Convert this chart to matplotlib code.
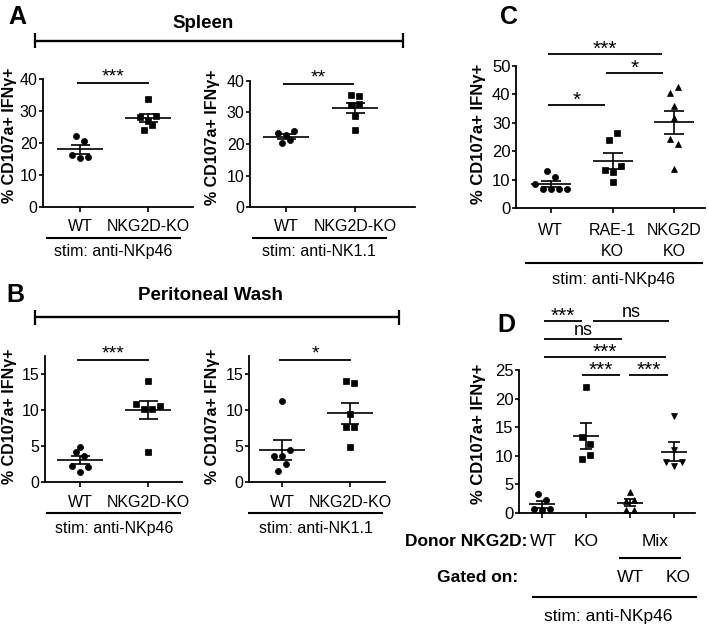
import numpy as np
import matplotlib
matplotlib.use('Agg')
import matplotlib.pyplot as plt
from matplotlib.lines import Line2D

plt.rcParams['font.family'] = ['Liberation Sans', 'DejaVu Sans']

# ---------------- data ----------------
ylabel_text = '% CD107a+ IFNγ+'
ab_cats = ['WT', 'NKG2D-KO']
c_cats = ['WT', 'RAE-1\nKO', 'NKG2D\nKO']

# Panel A (spleen)
a_nkp46_wt = [22.2, 20.7, 16.4, 15.4, 15.7]
a_nkp46_ko = [33.7, 28.1, 27.0, 28.3, 24.1, 25.7]
a_nk11_wt = [23.5, 22.9, 24.0, 20.2, 21.3]
a_nk11_ko = [35.4, 35.1, 32.3, 32.6, 28.8, 24.6]
# Panel B (peritoneal wash)
b_nkp46_wt = [4.9, 4.2, 3.6, 2.2, 1.35, 2.1]
b_nkp46_ko = [14.0, 10.9, 10.2, 10.2, 10.5, 4.2]
b_nk11_wt = [11.2, 3.6, 3.6, 4.4, 1.5, 2.5]
b_nk11_ko = [14.0, 13.7, 9.4, 7.7, 7.7, 4.8]
# Panel C
c_wt = [13.1, 11.1, 8.5, 6.8, 6.8, 6.8, 6.8]
c_rae_ko = [13.5, 12.6, 15.0, 24.0, 26.5, 9.1]
c_nkg2d_ko = [40.6, 42.7, 35.9, 31.9, 24.2, 22.6, 13.7]
# Panel D
d_wt = [3.2, 2.3, 0.6, 0.5, 0.6]
d_ko = [22.1, 13.3, 12.0, 9.4, 10.1]
d_mix_wt = [3.6, 2.0, 2.2, 0.4, 0.5]
d_mix_ko = [16.9, 11.0, 8.8, 8.1, 8.8]
d_donor = ['WT', 'KO', 'Mix']
d_gated = ['WT', 'KO']

# significance annotations: (x start, x end, y, label)
a1_sig = [(-0.05, 1.02, 38.7, '***')]
a2_sig = [(-0.05, 0.99, 39.0, '**')]
b1_sig = [(-0.05, 1.01, 16.9, '***')]
b2_sig = [(-0.04, 1.02, 16.9, '*')]
c_sig = [(-0.04, 1.80, 54.1, '***'), (0.90, 1.82, 47.4, '*'), (-0.04, 0.88, 36.3, '*')]
d_sig = [(0.05, 0.90, 33.5, '***'), (1.15, 2.89, 33.5, 'ns'), (0.05, 1.82, 30.4, 'ns'),
         (0.05, 2.82, 27.2, '***'), (0.90, 1.77, 24.1, '***'), (1.98, 2.87, 24.1, '***')]

# ---------------- layout helpers ----------------
W, H = 708, 628
fig = plt.figure(figsize=(W / 100, H / 100), dpi=100)
PX2PT = 72 / 100


def fx(x):
    return x / W


def fy(y):
    return 1 - y / H


def ax_px(l, t, r, b):
    return fig.add_axes([fx(l), fy(b), (r - l) / W, (b - t) / H])


def swarm_offsets(vals, ppy, d=8.0, thr=8.0):
    vals = np.asarray(vals, float)
    order = np.argsort(vals, kind='stable')
    rows, cur = [], [order[0]]
    for idx in order[1:]:
        if (vals[idx] - vals[cur[0]]) * ppy < thr:
            cur.append(idx)
        else:
            rows.append(cur)
            cur = [idx]
    rows.append(cur)
    off = np.zeros(len(vals))
    for row in rows:
        row = sorted(row)
        n = len(row)
        for k, idx in enumerate(row):
            off[idx] = (k - (n - 1) / 2) * d
    return off


def panel(l, t, r, b, cat_px, ylim, yticks, ytick_size):
    ax = ax_px(l, t, r, b)
    n = len(cat_px)
    ppx = (cat_px[-1] - cat_px[0]) / (n - 1)
    xmin = -(cat_px[0] - l) / ppx
    ax.set_xlim(xmin, xmin + (r - l) / ppx)
    ax.set_ylim(*ylim)
    ax.set_yticks(yticks)
    ax.set_xticks(range(n))
    for s in ('top', 'right'):
        ax.spines[s].set_visible(False)
    for s in ('left', 'bottom'):
        ax.spines[s].set_linewidth(1.3)
    ax.tick_params(axis='y', direction='out', length=3, width=1.2, pad=1, labelsize=ytick_size)
    ax.tick_params(axis='x', direction='out', length=3.6, width=1.2, labelbottom=False)
    ax.patch.set_visible(False)
    ppy = (b - t) / (ylim[1] - ylim[0])
    return ax, ppx, ppy


def draw_group(ax, i, vals, marker, ppx, ppy, mean_hw, cap_hw, ms=4.4):
    vals = np.asarray(vals, float)
    off = swarm_offsets(vals, ppy) / ppx
    ax.plot(i + off, vals, ls='none', marker=marker, ms=ms, mfc='k', mec='k', mew=0.5,
            clip_on=False, zorder=3)
    m = vals.mean()
    se = vals.std(ddof=1) / np.sqrt(len(vals))
    kw = dict(color='k', lw=1.2, solid_capstyle='butt', clip_on=False, zorder=4)
    ax.plot([i - mean_hw / ppx, i + mean_hw / ppx], [m, m], **kw)
    ax.plot([i, i], [m - se, m + se], **kw)
    for yv in (m - se, m + se):
        ax.plot([i - cap_hw / ppx, i + cap_hw / ppx], [yv, yv], **kw)


def sig(ax, items, star_size, star_off_pt, ns_off_pt=3.0):
    for x0, x1, y, lab in items:
        ax.plot([x0, x1], [y, y], color='k', lw=1.3, clip_on=False, solid_capstyle='butt')
        off = ns_off_pt if lab == 'ns' else star_off_pt
        size = 13 if lab == 'ns' else star_size
        ax.annotate(lab, xy=((x0 + x1) / 2, y), xytext=(0, off), textcoords='offset points',
                    ha='center', va='baseline', fontsize=size, annotation_clip=False)


def cat_labels(ax, labels, dy_first, size=11.5, line_px=20.7):
    y0 = ax.get_ylim()[0]
    for i, lab in enumerate(labels):
        for k, line in enumerate(lab.split('\n')):
            base = dy_first + k * line_px + 0.358 * size / PX2PT
            ax.annotate(line, xy=(i, y0), xytext=(0, -base * PX2PT), textcoords='offset points',
                        ha='center', va='baseline', fontsize=size, annotation_clip=False)


def fline(x0, x1, y, lw=1.5):
    fig.add_artist(Line2D([fx(x0), fx(x1)], [fy(y), fy(y)], color='k', lw=lw,
                          solid_capstyle='butt'))


def vline(x, y0, y1, lw=1.6):
    fig.add_artist(Line2D([fx(x), fx(x)], [fy(y0), fy(y1)], color='k', lw=lw,
                          solid_capstyle='butt'))


def ftext(x, y, s, size, bold=False, ha='center', va='center', rot=0):
    fig.text(fx(x), fy(y), s, fontsize=size, fontweight='bold' if bold else 'normal',
             ha=ha, va=va, rotation=rot)


def header(x0, x1, y, cap=7.5):
    fline(x0, x1, y, lw=1.7)
    vline(x0, y - cap, y + cap)
    vline(x1, y - cap, y + cap)


# ---------------- Panel A ----------------
ftext(17, 17, 'A', 18, bold=True)
ftext(203, 23, 'Spleen', 13.5, bold=True)
header(35, 403, 40.7)

ax, ppx, ppy = panel(43, 79, 193, 207, [80, 148], (0, 40), [0, 10, 20, 30, 40], 11.5)
draw_group(ax, 0, a_nkp46_wt, 'o', ppx, ppy, 23, 9.5)
draw_group(ax, 1, a_nkp46_ko, 's', ppx, ppy, 23, 9.5, ms=4.1)
sig(ax, a1_sig, 14, 1.5)
cat_labels(ax, ab_cats, 18)
ftext(10, 135, ylabel_text, 11.5, bold=True, rot=90)
fline(45.7, 180.7, 238.3)
ftext(113, 251.7, 'stim: anti-NKp46', 11.5)

ax, ppx, ppy = panel(250, 81, 415, 207, [286, 355], (0, 40), [0, 10, 20, 30, 40], 11.5)
draw_group(ax, 0, a_nk11_wt, 'o', ppx, ppy, 23, 9.5)
draw_group(ax, 1, a_nk11_ko, 's', ppx, ppy, 23, 9.5, ms=4.1)
sig(ax, a2_sig, 14, 1.5)
cat_labels(ax, ab_cats, 18)
ftext(212, 137, ylabel_text, 11.5, bold=True, rot=90)
fline(252.3, 386.7, 238.3)
ftext(319, 251.7, 'stim: anti-NK1.1', 11.5)

# ---------------- Panel B ----------------
ftext(15, 295, 'B', 18, bold=True)
ftext(210, 295, 'Peritoneal Wash', 13.5, bold=True)
header(35, 399, 317.3)

ax, ppx, ppy = panel(45, 356, 182, 482, [80, 148], (0, 17.5), [0, 5, 10, 15], 11.5)
draw_group(ax, 0, b_nkp46_wt, 'o', ppx, ppy, 23, 9.5)
draw_group(ax, 1, b_nkp46_ko, 's', ppx, ppy, 23, 9.5, ms=4.1)
sig(ax, b1_sig, 14, 1.5)
cat_labels(ax, ab_cats, 19.7)
ftext(10, 416, ylabel_text, 11.5, bold=True, rot=90)
fline(45.7, 180.7, 513.3)
ftext(114, 528.3, 'stim: anti-NKp46', 11.5)

ax, ppx, ppy = panel(249, 356, 385, 482, [282, 350], (0, 17.5), [0, 5, 10, 15], 11.5)
draw_group(ax, 0, b_nk11_wt, 'o', ppx, ppy, 23, 9.5)
draw_group(ax, 1, b_nk11_ko, 's', ppx, ppy, 23, 9.5, ms=4.1)
sig(ax, b2_sig, 14, 1.5)
cat_labels(ax, ab_cats, 19.7)
ftext(212, 416, ylabel_text, 11.5, bold=True, rot=90)
fline(248.3, 383.3, 513.3)
ftext(316, 528.3, 'stim: anti-NK1.1', 11.5)

# ---------------- Panel C ----------------
ftext(509, 17, 'C', 18, bold=True)
ax, ppx, ppy = panel(516, 66, 705, 208.3, [550.7, 612.7, 674.3], (0, 50),
                     [0, 10, 20, 30, 40, 50], 12)
draw_group(ax, 0, c_wt, 'o', ppx, ppy, 20, 10)
draw_group(ax, 1, c_rae_ko, 's', ppx, ppy, 20, 10, ms=4.1)
draw_group(ax, 2, c_nkg2d_ko, '^', ppx, ppy, 20, 10)
sig(ax, c_sig, 15, -0.6)
cat_labels(ax, c_cats, 21, size=11.5)
ftext(478, 134, ylabel_text, 12, bold=True, rot=90)
fline(525, 703, 263.3)
ftext(614, 279.3, 'stim: anti-NKp46', 12)

# ---------------- Panel D ----------------
ftext(506, 325, 'D', 18, bold=True)
ax, ppx, ppy = panel(519, 370, 695, 512.7, [542.3, 586.7, 630, 674], (0, 25),
                     [0, 5, 10, 15, 20, 25], 12)
draw_group(ax, 0, d_wt, 'o', ppx, ppy, 13, 6)
draw_group(ax, 1, d_ko, 's', ppx, ppy, 13, 6, ms=4.1)
draw_group(ax, 2, d_mix_wt, '^', ppx, ppy, 13, 6)
draw_group(ax, 3, d_mix_ko, 'v', ppx, ppy, 13, 6)
sig(ax, d_sig, 15, -0.6)
ftext(478, 434, ylabel_text, 12, bold=True, rot=90)

ftext(527.7, 541.7, 'Donor NKG2D:', 12.5, bold=True, ha='right')
for x, lab in zip([543.3, 585.7, 655], d_donor):
    ftext(x, 541.7, lab, 12.5)
fline(619, 681, 558.3)
ftext(518, 578, 'Gated on:', 12.5, bold=True, ha='right')
for x, lab in zip([630, 678], d_gated):
    ftext(x, 578, lab, 12.5)
fline(531.7, 696.7, 597.3)
ftext(608, 616.7, 'stim: anti-NKp46', 12.5)

fig.savefig('out.png', dpi=100)
